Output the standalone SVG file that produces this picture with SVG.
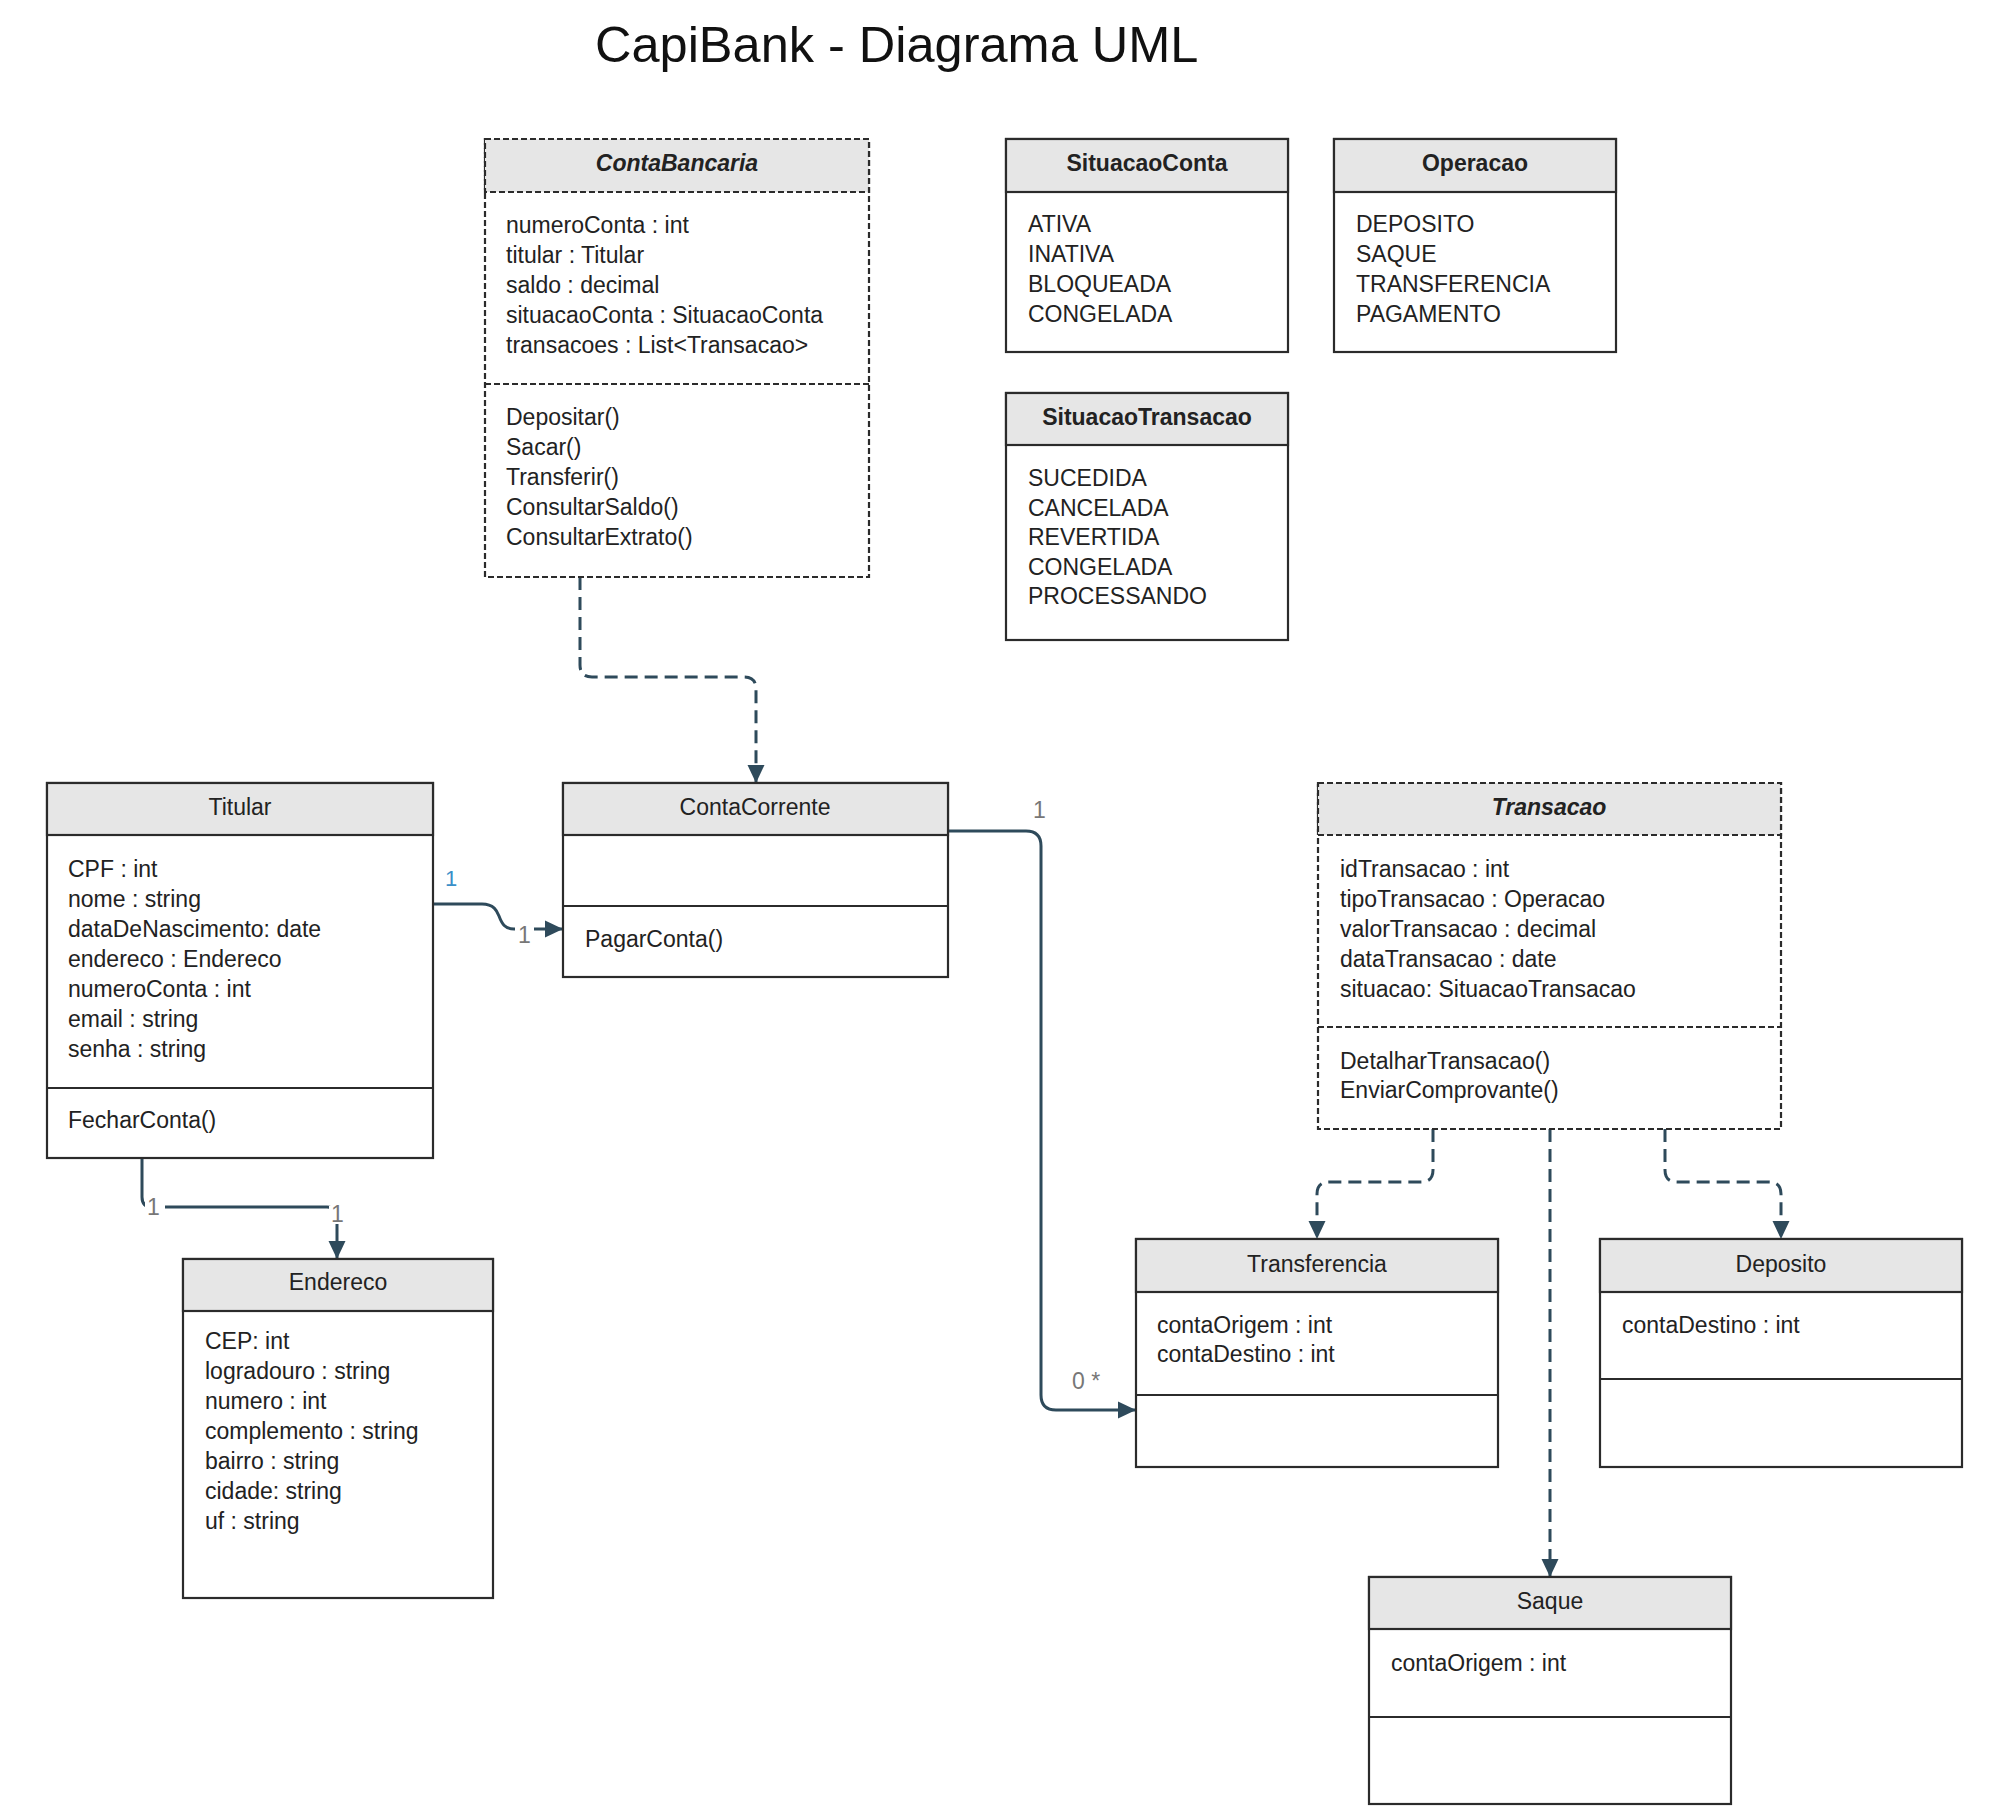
<svg xmlns="http://www.w3.org/2000/svg" width="2000" height="1820" viewBox="0 0 2000 1820">
<defs>
<style>
.bg{fill:#ffffff}
.box{fill:#ffffff;stroke:#2b2b2b;stroke-width:2.2}
.hdr{fill:#e6e6e6;stroke:#2b2b2b;stroke-width:2.2}
.sep{stroke:#2b2b2b;stroke-width:2.2;fill:none}
.abs .box,.abs .hdr,.abs .sep{stroke-dasharray:6 3}
text{font-family:"Liberation Sans",Arial,sans-serif;fill:#222}
.t{font-size:23px}
.h{font-size:23px;text-anchor:middle}
.hb{font-size:23px;text-anchor:middle;font-weight:bold}
.hbi{font-size:23px;text-anchor:middle;font-weight:bold;font-style:italic}
.title{font-size:50.5px;fill:#111}
.con{fill:none;stroke:#2e4a5b;stroke-width:3}
.dash{stroke-dasharray:13 7}
.lbl{font-size:23px;fill:#777}
.lblb{font-size:22px;fill:#3a8fc8}
.lbg{fill:#ffffff}
</style>
<marker id="arr" markerUnits="userSpaceOnUse" markerWidth="18" markerHeight="18" refX="18" refY="9" orient="auto" viewBox="0 0 18 18">
<path d="M0,0.5 L18,9 L0,17.5 Z" fill="#2e4a5b"/>
</marker>
</defs>
<rect class="bg" x="0" y="0" width="2000" height="1820"/>
<text class="title" x="595" y="62">CapiBank - Diagrama UML</text>

<g id="connectors">
<path class="con dash" d="M580 577 V665 Q580 677 592 677 H744 Q756 677 756 689 V783" marker-end="url(#arr)"/>
<path class="con" d="M433 904 H482 C494 904 497 911 499 916 C502 924 505 929 514 929 H563" marker-end="url(#arr)"/>
<path class="con" d="M948 831 H1026 Q1041 831 1041 846 V1395 Q1041 1410 1056 1410 H1136" marker-end="url(#arr)"/>
<path class="con" d="M142 1158 V1197 Q142 1207 152 1207 H327 Q337 1207 337 1217 V1259" marker-end="url(#arr)"/>
<path class="con dash" d="M1433 1129 V1170 Q1433 1182 1421 1182 H1329 Q1317 1182 1317 1194 V1239" marker-end="url(#arr)"/>
<path class="con dash" d="M1550 1129 V1577" marker-end="url(#arr)"/>
<path class="con dash" d="M1665 1129 V1170 Q1665 1182 1677 1182 H1769 Q1781 1182 1781 1194 V1239" marker-end="url(#arr)"/>
<text class="lblb" x="445" y="886">1</text>
<rect class="lbg" x="515" y="918" width="19" height="24"/>
<text class="lbl" x="518" y="943">1</text>
<text class="lbl" x="1033" y="818">1</text>
<text class="lbl" x="1072" y="1389">0 *</text>
<rect class="lbg" x="145" y="1195" width="20" height="22"/>
<text class="lbl" x="147" y="1215">1</text>
<rect class="lbg" x="329" y="1206" width="18" height="18"/>
<text class="lbl" x="331" y="1222">1</text>
</g>

<g id="ContaBancaria" class="abs">
<rect class="box" x="485" y="139" width="384" height="438"/>
<rect class="hdr" x="485" y="139" width="384" height="53"/>
<line class="sep" x1="485" y1="384" x2="869" y2="384"/>
<text class="hbi" x="677" y="171">ContaBancaria</text>
<text class="t" x="506" y="233">numeroConta : int</text>
<text class="t" x="506" y="263">titular : Titular</text>
<text class="t" x="506" y="293">saldo : decimal</text>
<text class="t" x="506" y="323">situacaoConta : SituacaoConta</text>
<text class="t" x="506" y="353">transacoes : List&lt;Transacao&gt;</text>
<text class="t" x="506" y="425">Depositar()</text>
<text class="t" x="506" y="455">Sacar()</text>
<text class="t" x="506" y="485">Transferir()</text>
<text class="t" x="506" y="515">ConsultarSaldo()</text>
<text class="t" x="506" y="545">ConsultarExtrato()</text>
</g>

<g id="SituacaoConta">
<rect class="box" x="1006" y="139" width="282" height="213"/>
<rect class="hdr" x="1006" y="139" width="282" height="53"/>
<text class="hb" x="1147" y="171">SituacaoConta</text>
<text class="t" x="1028" y="232">ATIVA</text>
<text class="t" x="1028" y="262">INATIVA</text>
<text class="t" x="1028" y="292">BLOQUEADA</text>
<text class="t" x="1028" y="322">CONGELADA</text>
</g>

<g id="Operacao">
<rect class="box" x="1334" y="139" width="282" height="213"/>
<rect class="hdr" x="1334" y="139" width="282" height="53"/>
<text class="hb" x="1475" y="171">Operacao</text>
<text class="t" x="1356" y="232">DEPOSITO</text>
<text class="t" x="1356" y="262">SAQUE</text>
<text class="t" x="1356" y="292">TRANSFERENCIA</text>
<text class="t" x="1356" y="322">PAGAMENTO</text>
</g>

<g id="SituacaoTransacao">
<rect class="box" x="1006" y="393" width="282" height="247"/>
<rect class="hdr" x="1006" y="393" width="282" height="52"/>
<text class="hb" x="1147" y="425">SituacaoTransacao</text>
<text class="t" x="1028" y="486">SUCEDIDA</text>
<text class="t" x="1028" y="516">CANCELADA</text>
<text class="t" x="1028" y="545">REVERTIDA</text>
<text class="t" x="1028" y="575">CONGELADA</text>
<text class="t" x="1028" y="604">PROCESSANDO</text>
</g>

<g id="Titular">
<rect class="box" x="47" y="783" width="386" height="375"/>
<rect class="hdr" x="47" y="783" width="386" height="52"/>
<line class="sep" x1="47" y1="1088" x2="433" y2="1088"/>
<text class="h" x="240" y="815">Titular</text>
<text class="t" x="68" y="877">CPF : int</text>
<text class="t" x="68" y="907">nome : string</text>
<text class="t" x="68" y="937">dataDeNascimento: date</text>
<text class="t" x="68" y="967">endereco : Endereco</text>
<text class="t" x="68" y="997">numeroConta : int</text>
<text class="t" x="68" y="1027">email : string</text>
<text class="t" x="68" y="1057">senha : string</text>
<text class="t" x="68" y="1128">FecharConta()</text>
</g>

<g id="ContaCorrente">
<rect class="box" x="563" y="783" width="385" height="194"/>
<rect class="hdr" x="563" y="783" width="385" height="52"/>
<line class="sep" x1="563" y1="906" x2="948" y2="906"/>
<text class="h" x="755" y="815">ContaCorrente</text>
<text class="t" x="585" y="947">PagarConta()</text>
</g>

<g id="Transacao" class="abs">
<rect class="box" x="1318" y="783" width="463" height="346"/>
<rect class="hdr" x="1318" y="783" width="463" height="52"/>
<line class="sep" x1="1318" y1="1027" x2="1781" y2="1027"/>
<text class="hbi" x="1549" y="815">Transacao</text>
<text class="t" x="1340" y="877">idTransacao : int</text>
<text class="t" x="1340" y="907">tipoTransacao : Operacao</text>
<text class="t" x="1340" y="937">valorTransacao : decimal</text>
<text class="t" x="1340" y="967">dataTransacao : date</text>
<text class="t" x="1340" y="997">situacao: SituacaoTransacao</text>
<text class="t" x="1340" y="1069">DetalharTransacao()</text>
<text class="t" x="1340" y="1098">EnviarComprovante()</text>
</g>

<g id="Endereco">
<rect class="box" x="183" y="1259" width="310" height="339"/>
<rect class="hdr" x="183" y="1259" width="310" height="52"/>
<text class="h" x="338" y="1290">Endereco</text>
<text class="t" x="205" y="1349">CEP: int</text>
<text class="t" x="205" y="1379">logradouro : string</text>
<text class="t" x="205" y="1409">numero : int</text>
<text class="t" x="205" y="1439">complemento : string</text>
<text class="t" x="205" y="1469">bairro : string</text>
<text class="t" x="205" y="1499">cidade: string</text>
<text class="t" x="205" y="1529">uf : string</text>
</g>

<g id="Transferencia">
<rect class="box" x="1136" y="1239" width="362" height="228"/>
<rect class="hdr" x="1136" y="1239" width="362" height="53"/>
<line class="sep" x1="1136" y1="1395" x2="1498" y2="1395"/>
<text class="h" x="1317" y="1272">Transferencia</text>
<text class="t" x="1157" y="1333">contaOrigem : int</text>
<text class="t" x="1157" y="1362">contaDestino : int</text>
</g>

<g id="Deposito">
<rect class="box" x="1600" y="1239" width="362" height="228"/>
<rect class="hdr" x="1600" y="1239" width="362" height="53"/>
<line class="sep" x1="1600" y1="1379" x2="1962" y2="1379"/>
<text class="h" x="1781" y="1272">Deposito</text>
<text class="t" x="1622" y="1333">contaDestino : int</text>
</g>

<g id="Saque">
<rect class="box" x="1369" y="1577" width="362" height="227"/>
<rect class="hdr" x="1369" y="1577" width="362" height="52"/>
<line class="sep" x1="1369" y1="1717" x2="1731" y2="1717"/>
<text class="h" x="1550" y="1609">Saque</text>
<text class="t" x="1391" y="1671">contaOrigem : int</text>
</g>
</svg>
